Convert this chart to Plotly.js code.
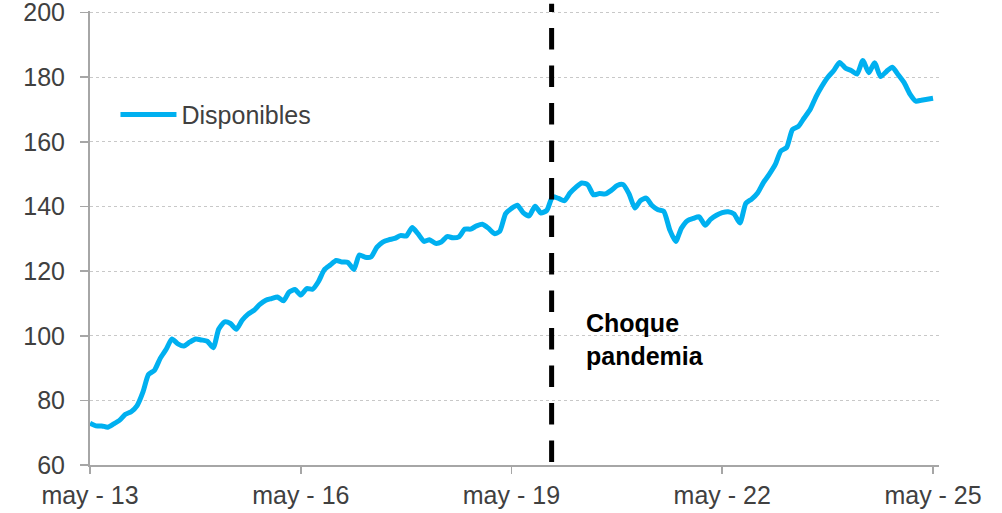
<!DOCTYPE html>
<html>
<head>
<meta charset="utf-8">
<script src="https://cdn.plot.ly/plotly-3.0.1.min.js"></script>
<style>html,body{margin:0;padding:0;background:#fff;}#chart{width:1002px;height:513px;}</style>
</head>
<body>
<div id="chart"></div>
<script>
// Monthly series starting May 2013
var startYear = 2013, startMonth = 5;
var seriesName = "Disponibles";
var values = [
  72.9,72.1,72.1,71.7,72.7,73.8,75.7,76.5,78.4,82.7,
  88.0,89.3,93.0,95.8,99.0,97.5,96.8,98.0,99.0,98.7,
  98.3,96.3,102.0,104.3,103.8,102.0,104.8,106.7,107.9,109.7,
  111.0,111.5,112.0,110.8,113.5,114.3,112.6,114.6,114.4,116.8,
  120.5,121.9,123.3,122.8,122.7,120.5,125.0,124.3,124.4,127.4,
  129.0,129.7,130.1,131.0,130.9,133.5,131.5,129.2,129.7,128.6,
  129.0,130.7,130.3,130.6,133.0,133.0,134.0,134.5,133.3,131.6,
  132.3,137.8,139.4,140.4,138.1,137.1,140.1,138.0,138.8,143.0,
  142.5,141.8,144.2,146.0,147.3,146.7,143.6,144.0,143.9,145.0,
  146.5,146.8,144.0,139.5,141.8,142.6,140.3,139.0,138.5,132.8,
  129.2,133.3,135.6,136.3,136.8,134.2,136.0,137.3,138.1,138.4,
  137.7,134.9,141.0,142.3,144.2,147.4,150.0,153.0,157.1,158.3,
  163.8,164.8,167.4,170.0,174.0,177.2,180.0,182.0,184.6,182.8,
  182.1,181.0,185.2,181.4,184.5,180.2,181.8,183.1,180.8,178.4,
  174.8,172.6,172.9,173.2,173.5
];
var tickVals = ["2013-05-01","2016-05-01","2019-05-01","2022-05-01","2025-05-01"];
var tickText = ["may - 13","may - 16","may - 19","may - 22","may - 25"];
var yTicks = [60,80,100,120,140,160,180,200];
var shockDate = "2019-11-26";
var shockLabel = "<b>Choque<br>pandemia</b>";

var dates = [];
for (var i = 0; i < values.length; i++) {
  var mIdx = startMonth - 1 + i;
  var y = startYear + Math.floor(mIdx / 12);
  var m = (mIdx % 12) + 1;
  dates.push(y + "-" + (m < 10 ? "0" + m : m) + "-01");
}

var font = "Liberation Sans, Arial, sans-serif";
var trace = {
  x: dates, y: values, type: "scatter", mode: "lines", name: seriesName,
  line: {color: "#00B0F0", width: 5, shape: "spline", smoothing: 0.6}
};

var layout = {
  width: 1002, height: 513,
  margin: {l: 90, r: 63, t: 11.4, b: 48},
  paper_bgcolor: "#ffffff", plot_bgcolor: "#ffffff",
  font: {family: font, size: 25, color: "#404040"},
  showlegend: true,
  legend: {x: 0.03, y: 0.7716, xanchor: "left", yanchor: "middle",
           bgcolor: "rgba(0,0,0,0)", itemwidth: 56,
           font: {family: font, size: 25, color: "#404040"}},
  xaxis: {
    type: "date", range: ["2013-05-01", "2025-06-01"],
    tickmode: "array", tickvals: tickVals, ticktext: tickText,
    showgrid: false, zeroline: false,
    showline: true, linecolor: "#a6a6a6", linewidth: 2,
    ticks: "outside", ticklen: 7, tickcolor: "#a6a6a6", tickwidth: 1.5,
    ticklabeloverflow: "allow",
    tickfont: {family: font, size: 25, color: "#404040"}
  },
  yaxis: {
    range: [60, 200.5], tickmode: "array", tickvals: yTicks,
    showgrid: true, gridcolor: "#c8c8c8", griddash: "dot", gridwidth: 1,
    zeroline: false,
    showline: true, linecolor: "#a6a6a6", linewidth: 2,
    ticks: "outside", ticklen: 8, tickcolor: "#a6a6a6", tickwidth: 1.5,
    ticklabelstandoff: 10, ticklabeloverflow: "allow",
    tickfont: {family: font, size: 25, color: "#404040"}
  },
  shapes: [{
    type: "line", xref: "x", yref: "paper",
    x0: shockDate, x1: shockDate, y0: 0.0066, y1: 1.016,
    line: {color: "#000000", width: 5, dash: "21.5px,16px"}
  }],
  annotations: [{
    xref: "paper", yref: "paper", x: 0.582, y: 0.2756,
    xanchor: "left", yanchor: "middle", align: "left", showarrow: false,
    text: shockLabel, font: {family: font, size: 25, color: "#000000"}
  }]
};

Plotly.newPlot("chart", [trace], layout, {displayModeBar: false, staticPlot: true});
</script>
</body>
</html>
